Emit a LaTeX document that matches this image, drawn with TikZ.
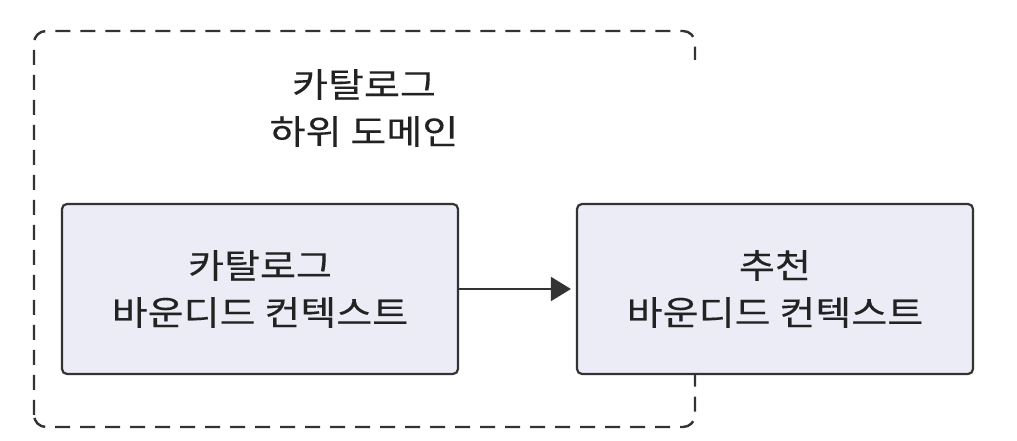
\documentclass[tikz,border=0pt]{standalone}
\usepackage{fontspec}
\setmainfont[FakeStretch=1.15,FakeBold=0.3]{Noto Sans CJK KR}
\usetikzlibrary{arrows.meta}
\definecolor{boxfill}{RGB}{236,236,247}
\definecolor{linegray}{RGB}{51,51,51}
\definecolor{textgray}{RGB}{34,34,34}
\begin{document}
\begin{tikzpicture}[x=1pt,y=1pt,
  ctxbox/.style={draw=linegray, line width=2.2pt, fill=boxfill, rounded corners=5pt,
    minimum width=396pt, minimum height=170pt, inner sep=0pt,
    align=center, font=\fontsize{34}{47}\selectfont, text=textgray},
  lbl/.style={align=center, font=\fontsize{34}{47}\selectfont, text=textgray},
  dashbox/.style={draw=linegray, line width=2.4pt, dash pattern=on 15pt off 10pt, rounded corners=12pt},
  conn/.style={draw=linegray, line width=2pt, -{Triangle[length=20pt,width=24pt]}, shorten >=5pt}]
\useasboundingbox (0,0) rectangle (1017,441);
\coordinate (dbl) at (34,14);
\coordinate (dbr) at (695,410);
\draw[dashbox] (dbl) rectangle (dbr);
\node[lbl] (sub) at (364,333) {카탈로그\\하위 도메인};
\fill[white] (570,197) rectangle (980,381);
\node[ctxbox] (cat) at (260,152) {카탈로그\\바운디드 컨텍스트};
\node[ctxbox] (rec) at (775,152) {추천\\바운디드 컨텍스트};
\draw[conn] (cat) -- (rec);
\end{tikzpicture}
\end{document}
